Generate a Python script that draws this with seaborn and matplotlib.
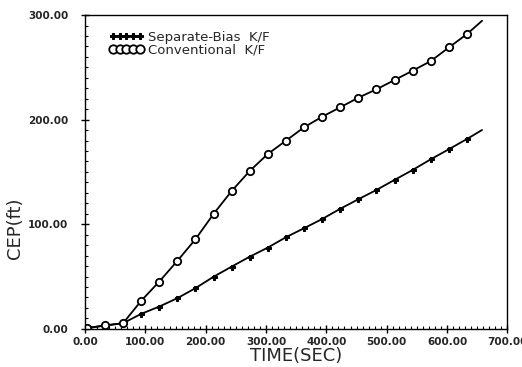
import numpy as np
import pandas as pd
import seaborn as sns
import matplotlib.pyplot as plt
from matplotlib.ticker import MultipleLocator, FormatStrFormatter

# Data (time in seconds, CEP in feet)
time_sec = [3, 33, 63, 93, 123, 153, 183, 213, 243, 273, 303, 333, 363, 393,
            423, 453, 483, 513, 543, 573, 603, 633, 658]
cep_separate = [0.7, 3.2, 5.4, 14.3, 21.3, 29.3, 38.9, 49.8, 59.5, 69.0, 77.7,
                87.6, 96.2, 105.0, 114.8, 123.9, 132.8, 142.4, 151.9, 162.1,
                171.7, 181.5, 190.1]
cep_conventional = [0.7, 3.2, 5.4, 26.8, 45.2, 65.0, 85.7, 109.9, 131.8, 151.0,
                    167.2, 179.9, 192.7, 202.8, 211.8, 221.0, 229.0, 237.9,
                    246.8, 256.0, 269.0, 281.8, 294.5]
label_separate = "Separate-Bias  K/F"
label_conventional = "Conventional  K/F"

df = pd.DataFrame({
    "time": time_sec,
    "separate": cep_separate,
    "conventional": cep_conventional,
})

sns.set_style("ticks")
plt.rcParams["font.family"] = ["DejaVu Sans"]

fig = plt.figure(figsize=(5.22, 3.67), dpi=100)
ax = fig.add_axes([0.163, 0.104, 0.809, 0.855])

# the last point is only the line's end, no marker there
n_mark = len(time_sec) - 1

sns.lineplot(
    data=df, x="time", y="separate", ax=ax, color="black", linewidth=1.3,
    marker="P", markersize=3.6, markerfacecolor="black", markeredgecolor="black",
    markevery=list(range(n_mark)), label=label_separate, sort=False,
)
sns.lineplot(
    data=df, x="time", y="conventional", ax=ax, color="black", linewidth=1.3,
    marker="o", markersize=5.3, markerfacecolor="white", markeredgecolor="black",
    markeredgewidth=1.3, markevery=list(range(n_mark)), label=label_conventional,
    sort=False,
)

# Axes' ranges and ticks
ax.set_xlim(0, 700)
ax.set_ylim(0, 300)
ax.xaxis.set_major_locator(MultipleLocator(100))
ax.xaxis.set_minor_locator(MultipleLocator(10))
ax.yaxis.set_major_locator(MultipleLocator(100))
ax.yaxis.set_minor_locator(MultipleLocator(10))
ax.xaxis.set_major_formatter(FormatStrFormatter("%.2f"))
ax.yaxis.set_major_formatter(FormatStrFormatter("%.2f"))
ax.tick_params(which="major", direction="inout", length=6, width=1.0,
               labelsize=7.5, color="black")
ax.tick_params(axis="x", which="major", pad=3)
ax.tick_params(axis="y", which="major", pad=9)
ax.tick_params(which="minor", direction="in", length=2.5, width=0.8,
               color="black")
for lab in ax.get_xticklabels() + ax.get_yticklabels():
    lab.set_fontweight("bold")

for side in ["left", "right", "top", "bottom"]:
    ax.spines[side].set_visible(True)
    ax.spines[side].set_linewidth(1.0)
    ax.spines[side].set_color("black")

# Axes labels
ax.set_xlabel("TIME(SEC)", fontsize=13, labelpad=0)
ax.set_ylabel("CEP(ft)", fontsize=13)
ax.yaxis.set_label_coords(-0.145, 0.32)

# Legend
ax.legend(
    loc="upper left", bbox_to_anchor=(0.051, 0.958), frameon=False,
    fontsize=9.5, numpoints=5, handlelength=2.6, handletextpad=0.35,
    labelspacing=0.0, borderpad=0.2, borderaxespad=0, markerscale=1.15,
)

fig.savefig("out.png", dpi=100)
